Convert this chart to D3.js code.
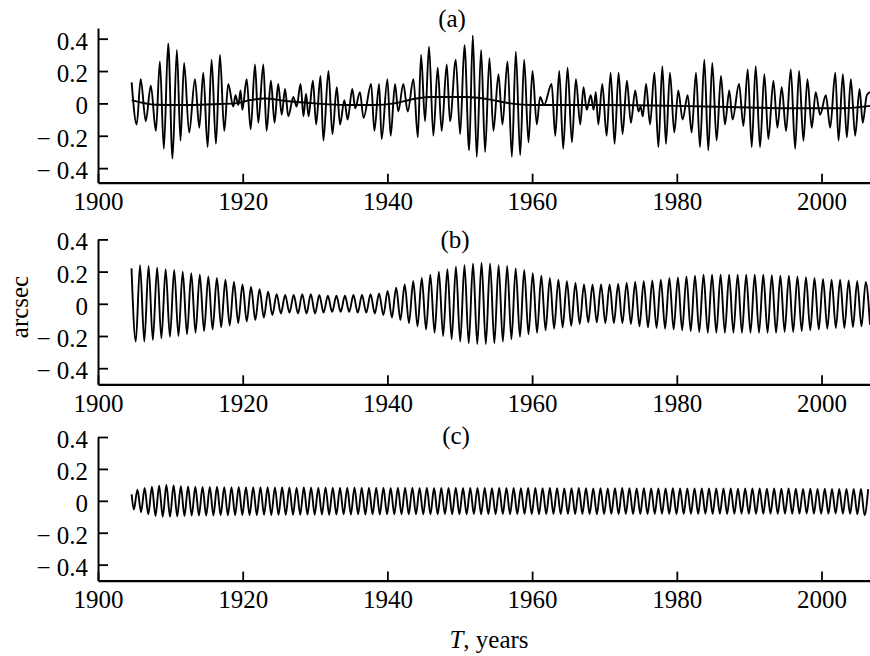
<!DOCTYPE html>
<html>
<head>
<meta charset="utf-8">
<script src="https://cdnjs.cloudflare.com/ajax/libs/d3/7.8.5/d3.min.js"></script>
<style>
  html, body { margin: 0; padding: 0; background: #fff; }
  svg { display: block; }
  .axis path, .axis line { stroke: #000; }
</style>
</head>
<body>
<svg id="chart"></svg>
<script>
// ---- data (arcsec) ----
const yearTicks = [1900, 1920, 1940, 1960, 1980, 2000];
const valueTicks = [0.4, 0.2, 0, -0.2, -0.4];

// (a) observed pole coordinate: extrema [year, value]
const aSeries = [
  [1904.65,0.13],[1905.35,-0.13],[1905.9,0.15],[1906.6,-0.11],[1907.3,0.11],[1908.0,-0.17],[1908.55,0.26],
  [1909.1,-0.28],[1909.7,0.37],[1910.3,-0.34],[1910.9,0.33],[1911.4,-0.23],[1911.9,0.25],[1912.6,-0.18],
  [1913.4,0.15],[1914.0,-0.15],[1914.55,0.19],[1915.15,-0.27],[1915.7,0.27],[1916.3,-0.25],[1916.85,0.30],
  [1917.45,-0.17],[1918.0,0.12],[1918.7,-0.02],[1919.0,0.05],[1919.4,-0.01],[1919.7,0.08],[1919.95,-0.04],
  [1920.55,0.15],[1921.1,-0.16],
  [1921.7,0.24],[1922.15,-0.12],[1922.85,0.24],[1923.3,-0.17],[1923.9,0.14],[1924.4,-0.12],[1924.9,0.12],
  [1925.4,-0.07],[1925.85,0.09],[1926.3,-0.08],[1927.0,0.04],[1927.45,-0.02],[1928.0,0.12],[1928.4,-0.08],
  [1928.75,0.06],[1929.1,-0.08],[1929.7,0.14],[1930.15,-0.13],[1930.75,0.17],[1931.15,-0.23],[1931.85,0.20],
  [1932.4,-0.19],[1933.0,0.10],[1933.45,-0.13],[1934.05,0.02],[1934.5,-0.10],[1935.15,0.09],[1935.55,-0.03],
  [1936.2,0.07],[1936.7,-0.09],[1937.75,0.12],[1938.2,-0.17],[1938.85,0.12],[1939.2,-0.22],[1940.0,0.15],
  [1940.45,-0.20],[1941.05,0.12],[1941.5,-0.05],[1942.2,0.12],[1942.8,-0.05],[1943.6,0.15],[1944.2,-0.21],
  [1944.65,0.30],[1945.2,-0.11],[1945.75,0.35],[1946.35,-0.20],[1946.95,0.22],[1947.5,-0.17],[1948.2,0.24],
  [1948.65,-0.11],[1949.45,0.27],[1950.05,-0.19],[1950.65,0.36],[1951.3,-0.29],[1951.8,0.42],[1952.35,-0.33],
  [1952.95,0.33],[1953.5,-0.30],[1954.1,0.28],[1954.65,-0.17],[1955.35,0.18],[1955.9,-0.13],[1956.6,0.26],
  [1957.2,-0.33],[1957.75,0.32],[1958.35,-0.32],[1958.9,0.27],[1959.5,-0.24],[1960.05,0.20],[1960.65,-0.13],
  [1961.1,0.04],[1961.65,-0.01],[1962.7,0.12],[1963.2,-0.20],[1963.75,0.20],[1964.3,-0.28],[1964.9,0.22],
  [1965.5,-0.24],[1966.05,0.15],[1966.65,-0.13],[1967.1,0.10],[1967.55,-0.04],[1968.1,0.05],[1968.5,-0.04],
  [1968.8,0.07],[1969.15,-0.13],[1969.7,0.12],[1970.3,-0.20],[1970.85,0.19],[1971.4,-0.25],[1971.95,0.19],
  [1972.5,-0.19],[1973.1,0.14],[1973.65,-0.12],[1974.25,0.08],[1974.7,-0.05],[1975.0,-0.02],[1975.3,-0.08],
  [1975.75,0.12],[1976.3,-0.13],[1976.9,0.19],[1977.45,-0.27],[1978.0,0.23],[1978.5,-0.25],[1979.05,0.19],
  [1979.65,-0.18],[1980.2,0.08],[1980.8,-0.10],[1981.5,0.05],[1982.05,-0.18],[1982.65,0.19],[1983.2,-0.27],
  [1983.8,0.27],[1984.35,-0.29],[1984.9,0.25],[1985.5,-0.23],[1986.1,0.17],[1986.65,-0.13],[1987.25,0.08],
  [1987.7,-0.10],[1988.6,0.12],[1989.2,-0.14],[1989.8,0.21],[1990.35,-0.27],[1990.9,0.23],[1991.5,-0.27],
  [1992.1,0.18],[1992.65,-0.22],[1993.35,0.14],[1993.9,-0.15],[1994.5,0.10],[1995.1,-0.17],[1995.75,0.21],
  [1996.35,-0.28],[1996.9,0.20],[1997.5,-0.23],[1998.05,0.15],[1998.65,-0.15],[1999.2,0.07],[1999.8,-0.07],
  [2000.6,0.05],[2001.2,-0.15],[2001.9,0.19],[2002.35,-0.23],[2002.95,0.18],[2003.5,-0.21],[2004.05,0.15],
  [2004.65,-0.20],[2005.25,0.09],[2005.7,-0.12],[2006.25,0.05],[2006.7,0.07]
];

// (a) slow trend curve [year, value]
const aTrend = [
  [1904.65,0.02],[1906,0.005],[1908,-0.008],[1912,-0.01],[1916,-0.005],[1919,0.0],[1921,0.02],[1923,0.03],
  [1926,0.015],[1930,0.0],[1934,-0.01],[1938,-0.01],[1941,0.0],[1944,0.03],[1946,0.04],[1951,0.04],
  [1954,0.025],[1957,0.0],[1960,-0.01],[1970,-0.01],[1980,-0.015],[1990,-0.025],[1995,-0.03],[2000,-0.03],
  [2003,-0.03],[2006.7,-0.015]
];

// (b) Chandler term: one peak and the following trough per cycle
const bStart = 1904.63;
const bPeriod = 1.18;
const bPeaks = [
  0.22,0.24,0.235,0.225,0.215,0.21,0.20,0.19,0.18,0.17,
  0.16,0.15,0.135,0.12,0.105,0.09,0.075,0.06,0.055,0.055,
  0.06,0.06,0.055,0.05,0.05,0.05,0.055,0.055,0.06,0.065,
  0.08,0.10,0.12,0.14,0.16,0.18,0.20,0.215,0.23,0.24,
  0.25,0.255,0.25,0.24,0.235,0.22,0.21,0.19,0.175,0.16,
  0.15,0.14,0.13,0.12,0.118,0.12,0.12,0.123,0.13,0.135,
  0.14,0.145,0.15,0.16,0.163,0.17,0.175,0.18,0.18,0.18,
  0.18,0.18,0.18,0.18,0.18,0.178,0.175,0.175,0.17,0.165,
  0.16,0.155,0.15,0.15,0.145,0.14,0.135
];
const bTroughs = [
  -0.235,-0.235,-0.225,-0.215,-0.205,-0.20,-0.19,-0.18,-0.17,-0.16,
  -0.145,-0.135,-0.12,-0.11,-0.10,-0.085,-0.07,-0.06,-0.055,-0.06,
  -0.06,-0.06,-0.055,-0.05,-0.05,-0.05,-0.055,-0.055,-0.06,-0.07,
  -0.085,-0.10,-0.12,-0.14,-0.16,-0.18,-0.20,-0.22,-0.235,-0.245,
  -0.25,-0.25,-0.245,-0.235,-0.22,-0.205,-0.19,-0.18,-0.165,-0.155,
  -0.147,-0.137,-0.125,-0.115,-0.115,-0.12,-0.12,-0.12,-0.125,-0.14,
  -0.147,-0.15,-0.155,-0.16,-0.165,-0.17,-0.175,-0.18,-0.18,-0.18,
  -0.18,-0.18,-0.18,-0.18,-0.18,-0.18,-0.175,-0.175,-0.17,-0.165,
  -0.16,-0.155,-0.15,-0.15,-0.145,-0.14,-0.13
];

// (c) annual term: first sample, then one trough and the following peak per year
const cFirst = [1904.65, 0.04];
const cStart = 1904.95;
const cPeriod = 1.0;
const cTroughs = [
  -0.055,-0.07,-0.085,-0.095,-0.10,-0.10,-0.097,-0.095,-0.093,-0.092,
  -0.093,-0.092,-0.09,-0.091,-0.09,-0.089,-0.09,-0.089,-0.088,-0.089,
  -0.088,-0.087,-0.088,-0.087,-0.086,-0.087,-0.086,-0.087,-0.086,-0.085,
  -0.086,-0.085,-0.086,-0.085,-0.086,-0.085,-0.084,-0.085,-0.084,-0.085,
  -0.084,-0.085,-0.084,-0.083,-0.084,-0.085,-0.084,-0.083,-0.084,-0.083,
  -0.084,-0.083,-0.084,-0.083,-0.082,-0.083,-0.084,-0.083,-0.082,-0.083,
  -0.082,-0.083,-0.082,-0.083,-0.084,-0.083,-0.082,-0.083,-0.082,-0.083,
  -0.082,-0.083,-0.082,-0.081,-0.082,-0.083,-0.082,-0.081,-0.082,-0.081,
  -0.082,-0.081,-0.082,-0.081,-0.08,-0.081,-0.082,-0.081,-0.08,-0.081,
  -0.08,-0.081,-0.08,-0.079,-0.08,-0.081,-0.08,-0.079,-0.08,-0.081,
  -0.085,-0.09
];
const cPeaks = [
  0.07,0.08,0.088,0.095,0.10,0.097,0.092,0.09,0.088,0.087,
  0.087,0.088,0.086,0.085,0.087,0.086,0.085,0.086,0.085,0.084,
  0.085,0.084,0.083,0.085,0.084,0.083,0.084,0.083,0.082,0.083,
  0.084,0.083,0.082,0.083,0.082,0.081,0.082,0.083,0.082,0.081,
  0.082,0.081,0.080,0.081,0.082,0.081,0.080,0.081,0.080,0.079,
  0.080,0.081,0.080,0.079,0.080,0.080,0.079,0.080,0.079,0.078,
  0.079,0.080,0.079,0.078,0.079,0.078,0.079,0.080,0.079,0.078,
  0.079,0.078,0.077,0.078,0.079,0.078,0.077,0.078,0.077,0.078,
  0.077,0.078,0.077,0.076,0.077,0.078,0.077,0.076,0.077,0.076,
  0.077,0.076,0.075,0.076,0.075,0.076,0.075,0.074,0.075,0.074,
  0.074,0.073
];

// ---- layout ----
const width = 870;
const height = 656;
const left = 98;
const right = 870;
const serif = '"Liberation Serif", "DejaVu Serif", "Times New Roman", serif';

const svg = d3.select('#chart')
  .attr('width', width)
  .attr('height', height);

const x = d3.scaleLinear()
  .domain([1900, 2006.7])
  .range([left, right]);

function alternate(start, period, first, second) {
  const pts = [];
  first.forEach((v, k) => {
    pts.push([start + k * period, v]);
    if (k < second.length) pts.push([start + (k + 0.5) * period, second[k]]);
  });
  return pts;
}

const bSeries = alternate(bStart, bPeriod, bPeaks, bTroughs);
const cSeries = [cFirst].concat(alternate(cStart, cPeriod, cTroughs, cPeaks));

const panels = [
  { id: 'a', top: 28, bottom: 182.7, domain: [-0.49, 0.466], label: '(a)', lx: 452, ly: 27,
    lines: [aSeries, aTrend] },
  { id: 'b', top: 239.4, bottom: 384.3, domain: [-0.5, 0.4], label: '(b)', lx: 455, ly: 248,
    lines: [bSeries] },
  { id: 'c', top: 437, bottom: 580.6, domain: [-0.5, 0.4], label: '(c)', lx: 456, ly: 444,
    lines: [cSeries] }
];

const fmt = v => v === 0 ? '0' : (v < 0 ? '\u2212 ' : '') + Math.abs(v).toFixed(1);

panels.forEach(p => {
  const y = d3.scaleLinear().domain(p.domain).range([p.bottom, p.top]);
  const g = svg.append('g').attr('class', 'panel-' + p.id);

  g.append('clipPath')
    .attr('id', 'clip-' + p.id)
    .append('rect')
    .attr('x', left)
    .attr('y', p.top - 10)
    .attr('width', right - left)
    .attr('height', p.bottom - p.top + 10);

  const line = d3.line()
    .x(d => x(d[0]))
    .y(d => y(d[1]))
    .curve(d3.curveMonotoneX);

  g.append('g')
    .attr('clip-path', `url(#clip-${p.id})`)
    .selectAll('path')
    .data(p.lines)
    .enter()
    .append('path')
    .attr('d', line)
    .attr('fill', 'none')
    .attr('stroke', '#000')
    .attr('stroke-width', 1.9)
    .attr('stroke-linejoin', 'round');

  // y axis, ticks pointing inward
  const yAxis = g.append('g')
    .attr('class', 'axis')
    .attr('transform', `translate(${left},0)`)
    .call(d3.axisLeft(y)
      .tickValues(valueTicks)
      .tickSizeInner(-10)
      .tickSizeOuter(0)
      .tickPadding(10)
      .tickFormat(fmt));
  yAxis.select('.domain').attr('stroke-width', 2);
  yAxis.selectAll('.tick line').attr('stroke-width', 1.8);
  yAxis.selectAll('.tick text').attr('dy', '0.42em');

  // x axis
  const xAxis = g.append('g')
    .attr('class', 'axis')
    .attr('transform', `translate(0,${p.bottom})`)
    .call(d3.axisBottom(x)
      .tickValues(yearTicks)
      .tickSizeInner(-9)
      .tickSizeOuter(0)
      .tickPadding(9.5)
      .tickFormat(d3.format('d')));
  xAxis.select('.domain').attr('stroke-width', 2.2);
  xAxis.selectAll('.tick line').attr('stroke-width', 1.8);

  [yAxis, xAxis].forEach(ax => ax
    .attr('font-family', serif)
    .attr('font-size', 25)
    .selectAll('text')
    .attr('fill', '#000')
    .style('font-family', serif)
    .style('font-size', '25px'));

  g.append('text')
    .attr('x', p.lx)
    .attr('y', p.ly)
    .attr('text-anchor', 'middle')
    .style('font-family', serif)
    .style('font-size', '25px')
    .text(p.label);
});

// axis titles
svg.append('text')
  .attr('transform', 'translate(28,307) rotate(-90)')
  .attr('text-anchor', 'middle')
  .style('font-family', serif)
  .style('font-size', '25px')
  .text('arcsec');

const xt = svg.append('text')
  .attr('x', 489)
  .attr('y', 648)
  .attr('text-anchor', 'middle')
  .style('font-family', serif)
  .style('font-size', '25px');
xt.append('tspan').style('font-style', 'italic').text('T');
xt.append('tspan').text(', years');
</script>
</body>
</html>
